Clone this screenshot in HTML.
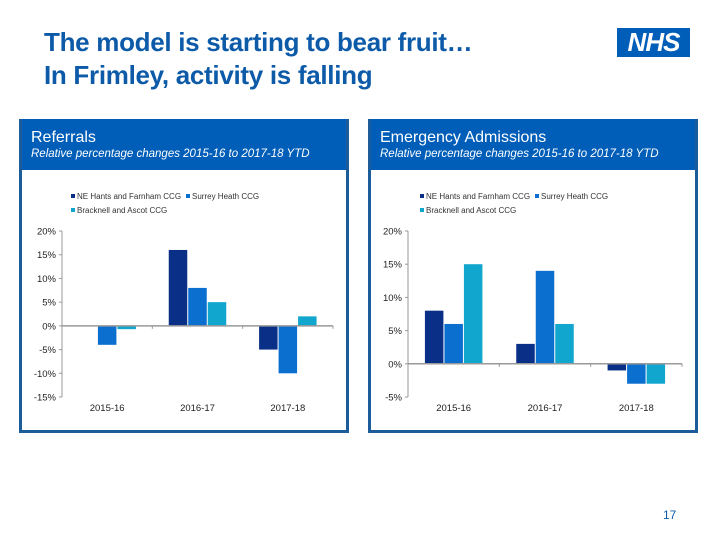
<!DOCTYPE html>
<html><head><meta charset="utf-8"><style>
body{margin:0;width:720px;height:540px;background:#fff;font-family:"Liberation Sans",Arial,sans-serif;position:relative;overflow:hidden}
.title{position:absolute;left:44px;top:26px;color:#0D5BA8;font-weight:bold;font-size:26px;line-height:33px;letter-spacing:-0.3px}
.panel{position:absolute;top:119px;width:324px;height:311px;border:3px solid #1C5C9A;border-top:none;background:#fff}
.hdr{background:#005EB8;color:#fff;height:51px;padding:9px 0 0 9px;box-sizing:border-box}
.hdr b{display:block;font-size:16px;font-weight:normal;line-height:19px}
.hdr i{display:block;font-size:11.5px;line-height:14px}
.nhs{position:absolute;left:617px;top:28px;width:73px;height:29px;background:#005EB8;color:#fff;font-weight:bold;font-style:italic;font-size:26px;line-height:29px;text-align:center;letter-spacing:-1px}
.pg{position:absolute;left:663px;top:508px;font-size:12px;color:#0D5BA8}
svg{position:absolute;left:0;top:0}
</style></head><body>
<div class="title">The model is starting to bear fruit…<br>In Frimley, activity is falling</div>
<div class="nhs">NHS</div>
<div class="panel" style="left:19px"><div class="hdr"><b>Referrals</b><i>Relative percentage changes 2015-16 to 2017-18 YTD</i></div></div>
<div class="panel" style="left:368px"><div class="hdr"><b>Emergency Admissions</b><i>Relative percentage changes 2015-16 to 2017-18 YTD</i></div></div>
<div class="pg">17</div>
<svg id="s" width="720" height="540"></svg>
<script>
const categories=["2015-16","2016-17","2017-18"];
const seriesNames=["NE Hants and Farnham CCG","Surrey Heath CCG","Bracknell and Ascot CCG"];
const colors=["#0A2F86","#0A6FCE","#11A6CE"];
const refNE=[0,16,-5];
const refSurrey=[-4,8,-10];
const refBrack=[-0.7,5,2];
const admNE=[8,3,-1];
const admSurrey=[6,14,-3];
const admBrack=[15,6,-3];
const refTicks=[20,15,10,5,0,-5,-10,-15];
const admTicks=[20,15,10,5,0,-5];
const svg=document.getElementById('s');
const NS="http://www.w3.org/2000/svg";
function mk(t,a){const e=document.createElementNS(NS,t);for(const k in a)e.setAttribute(k,a[k]);svg.appendChild(e);return e;}
function chart(id,x0,x1,yTop,yBot,ticks,series,legX){
  const vmax=ticks[0],vmin=ticks[ticks.length-1];
  const y=v=>yTop+(vmax-v)/(vmax-vmin)*(yBot-yTop);
  const cw=(x1-x0)/categories.length;
  seriesNames.forEach((n,i)=>{
    const lx=i<2?legX+i*(i==1?115:0):legX, ly=i<2?197:211;
    const r=mk('rect',{x:lx,y:ly-3,width:4,height:4,fill:colors[i]});
    
    
    const t=mk('text',{x:lx+6,y:ly+2,'font-size':8,fill:'#333','font-family':'Liberation Sans, sans-serif'});
    t.textContent=n;
    
    
  });
  const bw=19.5;
  series.forEach((s,si)=>{
    s.forEach((v,ci)=>{
      const cx=x0+cw*(ci+0.5);
      const bx=cx-1.5*bw+si*bw+0.5;
      const r=mk('rect',{x:bx,y:Math.min(y(v),y(0)),width:bw-1,height:Math.abs(y(v)-y(0)),fill:colors[si]});
      
      
    });
  });
  const ya=mk('line',{x1:x0,y1:yTop,x2:x0,y2:yBot,stroke:'#999','stroke-width':1});
  
  
  ticks.forEach(v=>{
    mk('line',{x1:x0-3,y1:y(v),x2:x0,y2:y(v),stroke:'#999'});
    const t=mk('text',{x:x0-6,y:y(v)+3.5,'font-size':9.5,'text-anchor':'end',fill:'#222'});
    t.textContent=v+'%';
    
    
  });
  const xa=mk('line',{x1:x0,y1:y(0),x2:x1,y2:y(0),stroke:'#999','stroke-width':1.5});
  
  
  categories.forEach((c,i)=>{
    mk('line',{x1:x0+cw*(i+1),y1:y(0),x2:x0+cw*(i+1),y2:y(0)+3,stroke:'#999'});
    const t=mk('text',{x:x0+cw*(i+0.5),y:yBot+14,'font-size':9.5,'text-anchor':'middle',fill:'#222'});
    t.textContent=c;
    
    
  });
}
chart('referrals',62,333,231,397,refTicks,[refNE,refSurrey,refBrack],71);
chart('admissions',408,682,231,397,admTicks,[admNE,admSurrey,admBrack],420);
</script>
</body></html>
